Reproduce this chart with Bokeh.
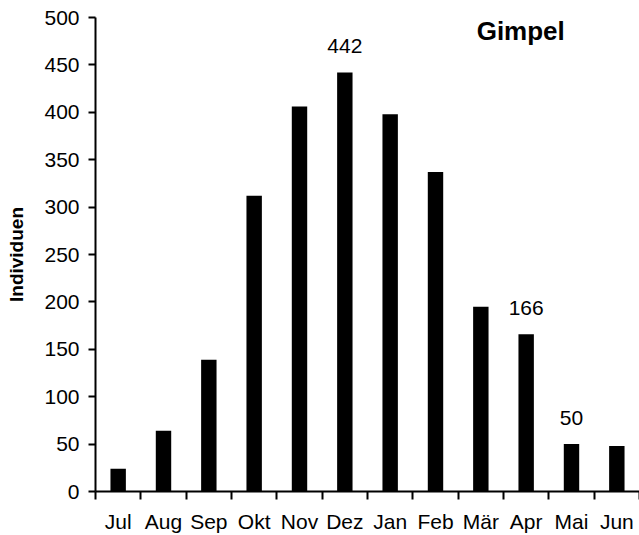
from bokeh.plotting import figure
from bokeh.models import Range1d, FixedTicker, Label, ColumnDataSource
from bokeh.core.properties import value
from bokeh.embed import file_html
from bokeh.resources import INLINE

months = ["Jul", "Aug", "Sep", "Okt", "Nov", "Dez", "Jan", "Feb", "Mär", "Apr", "Mai", "Jun"]
counts = [24, 64, 139, 312, 406, 442, 398, 337, 195, 166, 50, 48]
annotated = ["Dez", "Apr", "Mai"]
annot_labels = ["442", "166", "50"]
y_ticks = [0, 50, 100, 150, 200, 250, 300, 350, 400, 450, 500]
species = "Gimpel"
y_title = "Individuen"

FONT = "Liberation Sans"

xs = [i + 0.5 for i in range(len(months))]
src = ColumnDataSource(dict(x=xs, top=counts))

p = figure(width=639, height=535, output_backend="svg", toolbar_location=None,
           x_range=Range1d(0, 12), y_range=Range1d(0, 500),
           min_border_left=95, min_border_right=0, min_border_top=17, min_border_bottom=43)
p.outline_line_color = None
p.xgrid.grid_line_color = None
p.ygrid.grid_line_color = None
p.background_fill_color = "white"
p.border_fill_color = "white"

p.vbar(x="x", top="top", bottom=0, width=0.34, source=src, fill_color="black", line_color=None)

# annotations
ax = [xs[months.index(m)] for m in annotated]
ay = [counts[months.index(m)] for m in annotated]
p.text(x=ax, y=ay, text=annot_labels, text_align="center", text_baseline="bottom",
       y_offset=-19, text_font=value(FONT), text_font_size="21px", text_color="black")

# x axis
xa = p.xaxis[0]
xa.ticker = FixedTicker(ticks=xs, minor_ticks=list(range(0, 13)))
xa.major_label_overrides = {x: m for x, m in zip(xs, months)}
xa.major_tick_line_color = None
xa.major_tick_out = 0
xa.major_tick_in = 0
xa.minor_tick_out = 8
xa.minor_tick_in = 0
xa.minor_tick_line_width = 2
xa.minor_tick_line_color = "black"
xa.axis_line_width = 2
xa.axis_line_color = "black"
xa.major_label_standoff = 10
xa.major_label_text_font = FONT
xa.major_label_text_font_size = "21px"
xa.major_label_text_color = "black"

# y axis
ya = p.yaxis[0]
ya.ticker = FixedTicker(ticks=y_ticks)
ya.minor_tick_line_color = None
ya.major_tick_out = 7
ya.major_tick_in = 0
ya.major_tick_line_width = 2
ya.major_tick_line_color = "black"
ya.axis_line_width = 2
ya.axis_line_color = "black"
ya.major_label_standoff = 9
ya.major_label_text_font = FONT
ya.major_label_text_font_size = "21px"
ya.major_label_text_color = "black"
ya.axis_label = y_title
ya.axis_label_standoff = 14
ya.axis_label_text_font = FONT
ya.axis_label_text_font_size = "19px"
ya.axis_label_text_font_style = "bold"
ya.axis_label_text_color = "black"

p.add_layout(Label(x=9.38, y=486, text=species, text_align="center", text_baseline="middle",
                   text_font=FONT, text_font_size="26px", text_font_style="bold",
                   text_color="black"))

open("out.html", "w").write(file_html(p, INLINE))
